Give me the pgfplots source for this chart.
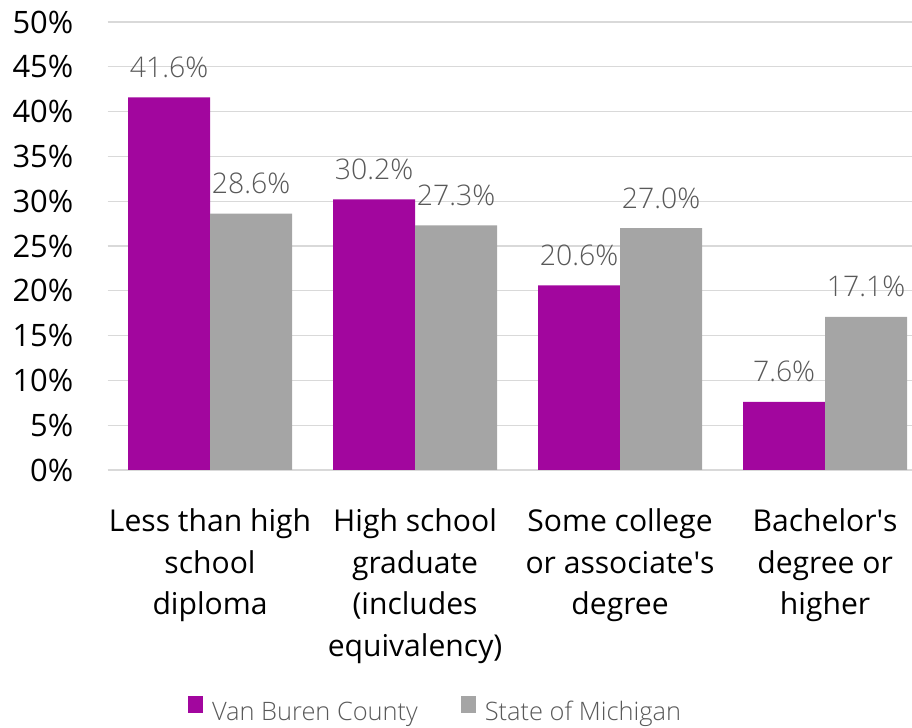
\documentclass[border=0pt]{standalone}
\usepackage{fontspec}
\setmainfont{Open Sans}
\newfontfamily\lightfont{Open Sans Light}
\usepackage{pgfplots}
\pgfplotsset{compat=1.18}
\definecolor{vb}{HTML}{A2069E}
\definecolor{mi}{HTML}{A5A5A5}
\definecolor{gridc}{HTML}{D9D9D9}
\definecolor{lab}{HTML}{595959}
\pgfplotsset{sqlegend/.style={legend image code/.code={\fill[##1] (0bp,-1bp) rectangle (15bp,16bp);}}}
\begin{document}
\begin{tikzpicture}[x=1bp,y=1bp]
\useasboundingbox (0,0) rectangle (912,728);
\begin{axis}[
  at={(107.5bp,258bp)}, anchor=south west,
  scale only axis, width=804.5bp, height=448bp,
  xmin=-0.5, xmax=3.424, ymin=0, ymax=50,
  ybar=0pt, bar width=82bp,
  axis line style={draw=none},
  ymajorgrids, major grid style={gridc, line width=1.3bp},
  tick style={draw=none},
  ytick={0,5,10,15,20,25,30,35,40,45,50},
  yticklabels={0\%,5\%,10\%,15\%,20\%,25\%,30\%,35\%,40\%,45\%,50\%},
  yticklabel style={font=\fontsize{31}{37}\selectfont, inner sep=0pt, anchor=east, xshift=-34bp},
  xtick={0,1,2,3},
  xticklabels={{Less than high\\school\\diploma},{High school\\graduate\\(includes\\equivalency)},{Some college\\or associate\textquotesingle s\\degree},{Bachelor\textquotesingle s\\degree or\\higher}},
  xticklabel style={font=\fontsize{30.2}{42}\selectfont, align=center, inner sep=0pt, anchor=north, yshift=-34bp},
  /pgf/number format/assume math mode=true,
  nodes near coords={\pgfmathprintnumber[fixed,fixed zerofill,precision=1]{\pgfplotspointmeta}\%},
  nodes near coords style={font=\lightfont\fontsize{28.5}{34}\selectfont, color=lab, inner sep=0pt, anchor=base, yshift=20bp},
  legend columns=2,
  legend style={at={(0.4065,-0.5335)}, anchor=center, draw=none, fill=none,
    font=\lightfont\fontsize{25.5}{31}\selectfont, text=lab,
    /tikz/every even column/.append style={column sep=43bp},
    /tikz/every odd column/.append style={column sep=9bp},
    nodes={inner sep=0pt}},
]
\addplot[fill=vb, draw=none, sqlegend] coordinates {(0,41.6) (1,30.2) (2,20.6) (3,7.6)};
\addplot[fill=mi, draw=none, sqlegend] coordinates {(0,28.6) (1,27.3) (2,27.0) (3,17.1)};
\legend{Van Buren County, State of Michigan}
\end{axis}
\end{tikzpicture}
\end{document}
